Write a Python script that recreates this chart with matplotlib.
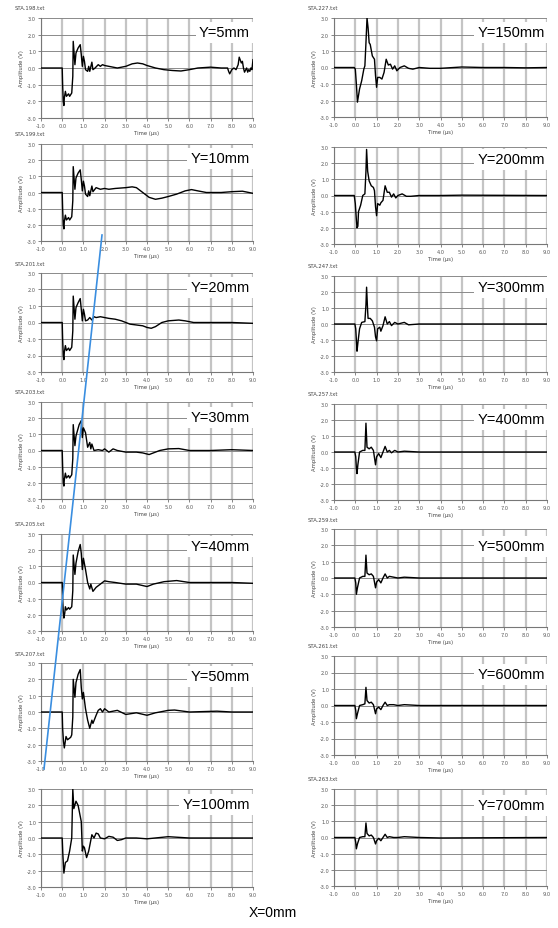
import matplotlib
matplotlib.use("Agg")
import matplotlib.pyplot as plt
from matplotlib.lines import Line2D

# ---------------- data ----------------
labels_left = ["Y=5mm", "Y=10mm", "Y=20mm", "Y=30mm", "Y=40mm", "Y=50mm", "Y=100mm"]
labels_right = ["Y=150mm", "Y=200mm", "Y=300mm", "Y=400mm", "Y=500mm", "Y=600mm", "Y=700mm"]
files_left = ["STA.198.txt", "STA.199.txt", "STA.201.txt", "STA.203.txt", "STA.205.txt", "STA.207.txt", ""]
files_right = ["STA.227.txt", "", "STA.247.txt", "STA.257.txt", "STA.259.txt", "STA.261.txt", "STA.263.txt"]
xticks = [-1, 0, 1, 2, 3, 4, 5, 6, 7, 8, 9]
yticks = [-3, -2, -1, 0, 1, 2, 3]

t_y5 = [-1.0, 0.0, 0.02, 0.05, 0.08, 0.1, 0.15, 0.2, 0.3, 0.35, 0.45, 0.5, 0.52, 0.6, 0.65, 0.75, 0.85, 0.9, 0.95,
        1.0, 1.05, 1.1, 1.2, 1.25, 1.3, 1.4, 1.45, 1.55, 1.7, 1.8, 1.9, 2.0, 2.2, 2.4, 2.6, 2.8, 3.0, 3.3, 3.55,
        3.8, 4.0, 4.4, 4.8, 5.2, 5.6, 6.0, 6.4, 7.0, 7.5, 7.8, 7.85, 7.9, 8.0, 8.1, 8.2, 8.3, 8.35, 8.45, 8.5,
        8.55, 8.6, 8.7, 8.75, 8.8, 8.85, 8.9, 8.95, 9.0]
v_y5 = [0.0, 0.0, -1.0, -2.0, -2.25, -1.8, -1.4, -1.7, -1.55, -1.7, -1.5, -0.5, 1.6, 0.2, 0.9, 1.2, 1.4, 0.8, 0.1,
        0.7, 0.4, -0.1, -0.2, 0.1, -0.2, 0.35, -0.1, 0.0, 0.2, 0.1, 0.2, 0.15, 0.1, 0.05, 0.0, 0.05, 0.1, 0.25, 0.3,
        0.25, 0.15, 0.0, -0.1, -0.15, -0.18, -0.1, 0.0, 0.05, 0.0, 0.0, -0.2, -0.35, -0.1, 0.0, -0.1, 0.2, 0.65, 0.3, 0.4,
        0.0, -0.25, 0.0, -0.25, -0.1, -0.2, 0.0, -0.1, 0.5]

t_y10 = [-1.0, 0.0, 0.02, 0.05, 0.08, 0.1, 0.15, 0.2, 0.3, 0.35, 0.45, 0.5, 0.52, 0.6, 0.65, 0.75, 0.85, 0.9, 0.95,
         1.0, 1.05, 1.1, 1.2, 1.25, 1.3, 1.4, 1.45, 1.6, 1.8, 2.0, 2.2, 2.5, 2.8, 3.0, 3.3, 3.5, 3.8, 4.1, 4.4,
         4.7, 5.0, 5.4, 5.8, 6.1, 6.4, 6.8, 7.5, 8.0, 8.5, 9.0]
v_y10 = [0.0, 0.0, -1.0, -2.0, -2.25, -1.8, -1.4, -1.7, -1.55, -1.7, -1.5, -0.5, 1.6, 0.2, 0.9, 1.2, 1.4, 0.8, 0.1,
         0.7, 0.4, -0.1, -0.25, 0.1, -0.2, 0.4, 0.05, 0.3, 0.2, 0.25, 0.2, 0.25, 0.28, 0.3, 0.35, 0.3, 0.0, -0.3, -0.42,
         -0.35, -0.25, -0.1, 0.1, 0.18, 0.1, 0.0, 0.0, 0.05, 0.08, -0.05]

t_y20 = [-1.0, 0.0, 0.02, 0.05, 0.08, 0.1, 0.15, 0.2, 0.3, 0.35, 0.45, 0.5, 0.52, 0.6, 0.65, 0.75, 0.85, 0.9, 0.95,
         1.0, 1.05, 1.1, 1.2, 1.3, 1.4, 1.5, 1.6, 1.8, 2.0, 2.2, 2.5, 2.8, 3.0, 3.2, 3.5, 3.8, 4.0, 4.2, 4.4,
         4.7, 5.0, 5.5, 5.8, 6.2, 7.0, 8.0, 9.0]
v_y20 = [0.0, 0.0, -1.0, -2.0, -2.25, -1.8, -1.4, -1.7, -1.55, -1.7, -1.5, -0.5, 1.6, 0.2, 0.9, 1.2, 1.45, 0.8, 0.1,
         0.8, 0.5, 0.1, 0.15, 0.3, 0.15, 0.35, 0.3, 0.35, 0.3, 0.25, 0.2, 0.1, 0.0, -0.1, -0.15, -0.2, -0.3, -0.35, -0.25,
         0.0, 0.1, 0.15, 0.1, 0.0, 0.0, 0.0, -0.05]

t_y30 = [-1.0, 0.0, 0.02, 0.05, 0.08, 0.1, 0.15, 0.2, 0.3, 0.35, 0.45, 0.5, 0.52, 0.6, 0.65, 0.8, 0.9, 0.95,
         1.0, 1.1, 1.2, 1.3, 1.35, 1.4, 1.5, 1.7, 1.9, 2.0, 2.2, 2.4, 2.6, 3.0, 3.5, 3.8, 4.1, 4.3, 4.6, 5.0, 5.5,
         6.0, 7.0, 8.0, 9.0]
v_y30 = [0.0, 0.0, -1.0, -2.0, -2.2, -1.8, -1.4, -1.7, -1.55, -1.7, -1.5, -0.5, 1.6, 0.3, 0.9, 1.6, 1.85, 0.8,
         1.4, 1.1, 0.2, 0.5, 0.1, 0.4, 0.0, 0.05, 0.0, 0.1, -0.1, 0.1, 0.0, -0.1, -0.1, -0.15, -0.25, -0.15, 0.0, 0.1, 0.12,
         0.0, 0.0, 0.05, 0.0]

t_y40 = [-1.0, 0.0, 0.02, 0.05, 0.08, 0.12, 0.15, 0.2, 0.3, 0.35, 0.45, 0.5, 0.52, 0.6, 0.65, 0.75, 0.85, 0.9, 0.95,
         1.0, 1.1, 1.2, 1.3, 1.35, 1.45, 1.6, 1.8, 2.0, 2.2, 2.5, 3.0, 3.5, 4.0, 4.3, 4.8, 5.4, 6.0, 7.0, 8.0, 9.0]
v_y40 = [0.0, 0.0, -1.0, -1.8, -2.2, -1.9, -1.5, -1.7, -1.55, -1.65, -1.5, -0.5, 1.7, 0.5, 1.2, 1.9, 2.35, 1.8, 0.8,
         1.5, 0.8, 0.0, -0.4, -0.1, -0.55, -0.3, -0.1, 0.1, 0.05, 0.0, -0.1, -0.1, -0.25, -0.1, 0.05, 0.12, 0.0, 0.0, 0.0, -0.05]

t_y50 = [-1.0, 0.0, 0.02, 0.06, 0.1, 0.18, 0.25, 0.4, 0.45, 0.5, 0.52, 0.6, 0.65, 0.75, 0.85, 0.9, 0.95,
         1.0, 1.1, 1.2, 1.3, 1.4, 1.45, 1.6, 1.7, 1.8, 1.9, 2.0, 2.2, 2.4, 2.6, 3.0, 3.5, 4.0, 4.4, 5.0, 5.3,
         6.0, 7.3, 8.0, 9.0]
v_y50 = [0.0, 0.0, -1.0, -1.8, -2.2, -1.5, -1.7, -1.55, -1.4, -0.3, 2.0, 0.9, 1.8, 2.3, 2.6, 1.5, 0.8,
         1.2, 0.2, -0.5, -1.0, -0.5, -0.7, -0.2, 0.1, 0.2, 0.0, 0.2, 0.0, 0.05, 0.1, -0.15, -0.05, -0.2, -0.05, 0.1, 0.12,
         0.0, 0.05, 0.0, 0.0]

t_y100 = [-1.0, 0.0, 0.03, 0.08, 0.15, 0.25, 0.35, 0.45, 0.5, 0.55, 0.65, 0.75, 0.9, 0.95, 1.0, 1.05, 1.15, 1.25,
          1.4, 1.5, 1.6, 1.7, 1.8, 2.0, 2.2, 2.4, 2.6, 2.8, 3.0, 3.5, 4.0, 5.0, 6.0, 7.0, 9.0]
v_y100 = [0.0, 0.0, -1.0, -2.15, -1.5, -1.4, -0.8, 0.0, 3.0, 1.8, 2.25, 2.0, 1.0, -0.8, -0.5, -0.6, -1.2, -0.8,
          0.2, 0.0, 0.3, 0.25, 0.0, -0.05, 0.1, 0.05, -0.15, -0.1, 0.0, 0.0, -0.05, 0.08, 0.0, 0.0, 0.0]

t_y150 = [-1.0, -0.05, 0.0, 0.05, 0.1, 0.2, 0.3, 0.4, 0.45, 0.5, 0.55, 0.6, 0.65, 0.7, 0.8, 0.9, 0.95, 1.0, 1.05,
          1.15, 1.25, 1.35, 1.45, 1.55, 1.65, 1.75, 1.85, 1.95, 2.1, 2.3, 2.5, 2.7, 3.0, 3.5, 4.0, 5.0, 6.0, 7.0, 8.0, 9.0]
v_y150 = [0.0, 0.0, -0.1, -1.0, -2.1, -1.3, -0.8, -0.1, 0.1, 1.5, 3.0, 2.4, 1.5, 1.4, 0.7, 0.5, -0.5, -1.2, -0.6,
          -0.6, -0.7, -0.3, 0.5, 0.15, 0.2, -0.1, 0.1, -0.2, 0.0, 0.1, -0.05, -0.1, 0.0, -0.05, -0.05, 0.03, 0.0, 0.0, -0.02, 0.0]

t_y200 = [-1.0, -0.05, 0.0, 0.05, 0.08, 0.12, 0.15, 0.25, 0.35, 0.45, 0.5, 0.53, 0.58, 0.65, 0.75, 0.85, 0.9, 0.95,
          1.0, 1.05, 1.15, 1.2, 1.3, 1.4, 1.5, 1.6, 1.7, 1.8, 1.9, 2.0, 2.2, 2.4, 2.6, 3.0, 4.0, 5.0, 9.0]
v_y200 = [0.0, 0.0, -0.5, -1.5, -2.0, -1.9, -1.0, -0.6, 0.0, 0.1, 1.5, 2.85, 1.5, 0.9, 0.6, 0.5, 0.3, -0.7,
          -1.25, -0.5, -0.6, -0.45, -0.3, 0.6, 0.2, 0.2, -0.1, 0.1, -0.15, 0.0, 0.1, -0.05, -0.05, 0.0, 0.0, 0.02, 0.0]

t_y300 = [-1.0, -0.02, 0.02, 0.05, 0.08, 0.12, 0.2, 0.3, 0.45, 0.5, 0.53, 0.58, 0.6, 0.7, 0.8, 0.9, 0.95, 1.0,
          1.05, 1.15, 1.2, 1.3, 1.4, 1.5, 1.6, 1.7, 1.85, 2.0, 2.3, 2.5, 3.0, 9.0]
v_y300 = [0.0, 0.0, -0.3, -1.0, -1.7, -1.2, -0.3, 0.1, 0.15, 1.2, 2.3, 0.8, 0.35, 0.35, 0.2, -0.2, -0.8, -1.05,
          -0.3, -0.2, -0.45, -0.1, 0.45, 0.0, 0.15, -0.1, 0.1, 0.0, 0.1, -0.05, 0.0, 0.0]

t_y400 = [-1.0, -0.02, 0.02, 0.05, 0.08, 0.12, 0.2, 0.35, 0.45, 0.5, 0.55, 0.65, 0.75, 0.85, 0.95, 1.0, 1.1,
          1.2, 1.3, 1.4, 1.5, 1.6, 1.7, 1.85, 2.0, 2.3, 3.0, 9.0]
v_y400 = [0.0, 0.0, -0.3, -1.0, -1.35, -0.8, 0.0, 0.1, 0.1, 1.8, 0.3, 0.2, 0.3, 0.1, -0.8, -0.3, -0.1,
          -0.35, 0.0, 0.35, 0.0, 0.1, -0.05, 0.1, 0.0, 0.05, 0.0, 0.0]

t_y500 = [-1.0, -0.02, 0.02, 0.05, 0.1, 0.2, 0.35, 0.45, 0.5, 0.55, 0.65, 0.75, 0.85, 0.95, 1.0, 1.1, 1.2,
          1.3, 1.4, 1.5, 1.6, 1.8, 2.0, 2.3, 3.0, 9.0]
v_y500 = [0.0, 0.0, -0.3, -1.0, -0.6, 0.0, 0.1, 0.1, 1.4, 0.3, 0.2, 0.25, 0.1, -0.6, -0.25, -0.1, -0.3,
          0.0, 0.25, 0.0, 0.1, 0.05, 0.0, 0.05, 0.0, 0.0]

t_y600 = [-1.0, -0.02, 0.02, 0.05, 0.1, 0.2, 0.35, 0.45, 0.5, 0.55, 0.65, 0.75, 0.85, 0.95, 1.0, 1.1, 1.2,
          1.3, 1.4, 1.5, 1.6, 1.8, 2.0, 2.3, 3.0, 9.0]
v_y600 = [0.0, 0.0, -0.3, -0.8, -0.5, 0.0, 0.05, 0.1, 1.1, 0.3, 0.15, 0.2, 0.05, -0.5, -0.2, -0.1, -0.25,
          0.0, 0.2, 0.0, 0.05, 0.05, 0.0, 0.05, 0.0, 0.0]

t_y700 = [-1.0, -0.02, 0.02, 0.05, 0.1, 0.2, 0.35, 0.45, 0.5, 0.55, 0.65, 0.75, 0.85, 0.95, 1.0, 1.1, 1.2,
          1.3, 1.4, 1.5, 1.6, 1.8, 2.0, 2.3, 3.0, 4.0, 9.0]
v_y700 = [0.0, 0.0, -0.3, -0.7, -0.4, 0.0, 0.05, 0.05, 0.9, 0.25, 0.1, 0.15, 0.0, -0.4, -0.2, -0.05, -0.2,
          0.0, 0.2, 0.0, 0.05, 0.0, 0.0, 0.05, 0.0, -0.03, 0.0]

series_left = [(t_y5, v_y5), (t_y10, v_y10), (t_y20, v_y20), (t_y30, v_y30),
               (t_y40, v_y40), (t_y50, v_y50), (t_y100, v_y100)]
series_right = [(t_y150, v_y150), (t_y200, v_y200), (t_y300, v_y300), (t_y400, v_y400),
                (t_y500, v_y500), (t_y600, v_y600), (t_y700, v_y700)]

# ---------------- layout (pixels) ----------------
W, H = 558, 929
left_x = (41, 253)
right_x = (334, 547)
left_tb = [(19, 119), (145, 242), (274, 373), (403, 500), (535, 632), (664, 762), (790, 888)]
right_tb = [(19, 118), (148, 245), (277, 373), (405, 501), (530, 628), (657, 756), (790, 887)]
left_lab_y = [33, 159, 288, 418, 547, 677, 805]
right_lab_y = [33, 160, 288, 420, 547, 675, 806]

fig = plt.figure(figsize=(W / 100, H / 100), dpi=100)
fig.patch.set_facecolor("white")


def make_panel(x01, tb, t, v, fname, label, lab_y, lab_right):
    x0, x1 = x01
    top, bot = tb
    ax = fig.add_axes([x0 / W, 1 - bot / H, (x1 - x0) / W, (bot - top) / H])
    ax.set_xlim(-1, 9)
    ax.set_ylim(-3, 3)
    ax.set_xticks(xticks)
    ax.set_yticks(yticks)
    ax.set_xticklabels([f"{x:.1f}" for x in xticks])
    ax.set_yticklabels([f"{y:.1f}" for y in yticks])
    ax.tick_params(labelsize=3.6, colors="#555555", length=2, width=0.5, pad=1.5)
    for s in ["top", "right"]:
        ax.spines[s].set_visible(False)
    for s in ["left", "bottom"]:
        ax.spines[s].set_color("#777777")
        ax.spines[s].set_linewidth(0.8)
    for x in xticks:
        ax.axvline(x, color="#c4c4c4", lw=1.6, zorder=0)
    for y in yticks:
        ax.axhline(y, color="#8a8a8a", lw=0.7, zorder=0.5)
    ax.plot(t, v, color="black", lw=1.0, zorder=3)
    ax.set_xlabel("Time (µs)", fontsize=3.8, color="#444444", labelpad=1.5)
    ax.set_ylabel("Amplitude (V)", fontsize=3.8, color="#444444", labelpad=2)
    if fname:
        fig.text((x0 - 26) / W, 1 - (top - 10) / H, fname, fontsize=3.8, color="#444444",
                 ha="left", va="center")
    fig.text(lab_right / W, 1 - lab_y / H, label, fontsize=10.5, family="Liberation Sans",
             ha="right", va="center", color="black", zorder=5,
             bbox=dict(facecolor="white", edgecolor="none", pad=2.5))
    return ax


for i in range(7):
    t, v = series_left[i]
    make_panel(left_x, left_tb[i], t, v, files_left[i], labels_left[i], left_lab_y[i], 250)
    t, v = series_right[i]
    make_panel(right_x, right_tb[i], t, v, files_right[i], labels_right[i], right_lab_y[i], 545)

# blue guide line across the left column
fig.add_artist(Line2D([102 / W, 44 / W], [1 - 236 / H, 1 - 770 / H], transform=fig.transFigure,
                      color="#3a8ee0", lw=1.2, zorder=10))

fig.text(273 / W, 1 - 913 / H, "X=0mm", fontsize=10, family="Liberation Sans",
         ha="center", va="center", color="black")

fig.savefig("out.png", dpi=100, facecolor="white")
